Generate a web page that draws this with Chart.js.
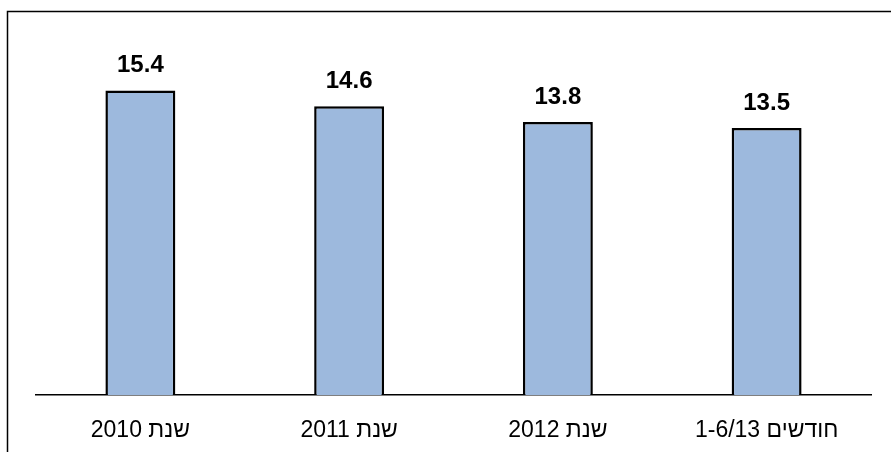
<!DOCTYPE html>
<html>
<head>
<meta charset="utf-8">
<script src="https://cdn.jsdelivr.net/npm/chart.js@4.4.1/dist/chart.umd.min.js"></script>
<style>
  html, body { margin: 0; padding: 0; background: #fff; }
  #wrap { width: 891px; height: 452px; position: relative; }
</style>
</head>
<body>
<div id="wrap"><canvas id="c" width="891" height="452"></canvas></div>
<script>
const categories = ['שנת 2010', 'שנת 2011', 'שנת 2012', 'חודשים 1-6/13'];
const values = [15.4, 14.6, 13.8, 13.5];
const valueLabels = ['15.4', '14.6', '13.8', '13.5'];

const frame = {
  id: 'frame',
  beforeDraw(chart) {
    const ctx = chart.ctx;
    ctx.save();
    ctx.fillStyle = '#fff';
    ctx.fillRect(0, 0, chart.width, chart.height);
    ctx.strokeStyle = '#000';
    ctx.lineWidth = 1.5;
    ctx.beginPath();
    ctx.moveTo(7.5, chart.height);
    ctx.lineTo(7.5, 11.5);
    ctx.lineTo(chart.width, 11.5);
    ctx.stroke();
    ctx.restore();
  }
};

const labelsPlugin = {
  id: 'valLabels',
  afterDatasetsDraw(chart) {
    const ctx = chart.ctx;
    const meta = chart.getDatasetMeta(0);
    ctx.save();
    ctx.font = 'bold 24px "Liberation Sans", Arial, sans-serif';
    ctx.fillStyle = '#000';
    ctx.textAlign = 'center';
    ctx.textBaseline = 'alphabetic';
    meta.data.forEach((bar, i) => {
      ctx.fillText(valueLabels[i], bar.x, bar.y - 18);
    });
    ctx.restore();
  }
};

new Chart(document.getElementById('c'), {
  type: 'bar',
  data: {
    labels: categories,
    datasets: [{
      data: values,
      backgroundColor: '#9DB9DD',
      borderColor: '#000',
      borderWidth: 2.5,
      borderSkipped: 'bottom',
      barPercentage: 0.335,
      categoryPercentage: 1
    }]
  },
  options: {
    responsive: false,
    animation: false,
    layout: { padding: { left: 36, right: 20, top: 39, bottom: 0 } },
    plugins: { legend: { display: false }, tooltip: { enabled: false } },
    scales: {
      x: {
        grid: { display: false, drawTicks: false, tickLength: 0 },
        border: { display: true, color: '#000', width: 1.5 },
        ticks: {
          color: '#000',
          font: { family: '"Liberation Sans", Arial, sans-serif', size: 23 },
          padding: 22,
          maxRotation: 0
        },
        afterFit(scale) { scale.height = 57; }
      },
      y: {
        display: false,
        min: 0,
        max: 18
      }
    }
  },
  plugins: [frame, labelsPlugin]
});
</script>
</body>
</html>
